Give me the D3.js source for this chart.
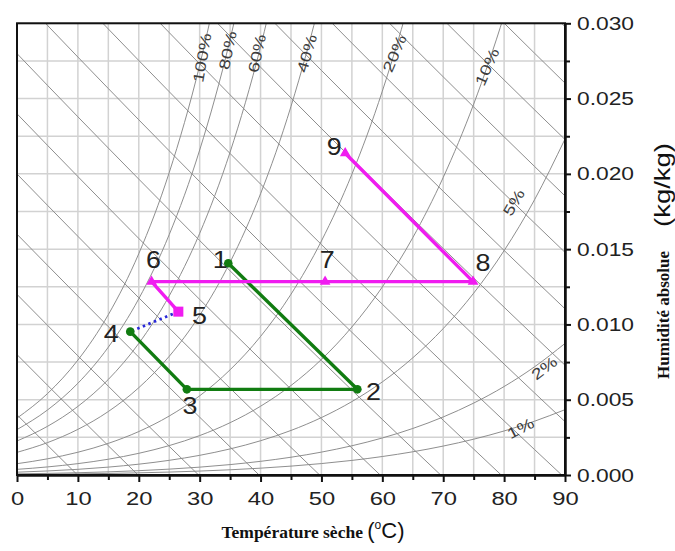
<!DOCTYPE html>
<html>
<head>
<meta charset="utf-8">
<script src="https://cdn.jsdelivr.net/npm/d3@7/dist/d3.min.js"></script>
<style>
  html, body { margin: 0; padding: 0; background: #fff; }
  svg { display: block; }
</style>
</head>
<body>
<svg id="chart" width="675" height="551"></svg>
<script>
// ---------------- DATA ----------------
// Saturation vapour pressure table (kPa) at dry-bulb temperatures (°C)
const satTemps = [0, 5, 10, 15, 20, 25, 30, 35, 40, 45, 50, 55, 60, 65, 70, 75, 80, 85, 90];
const satPress = [0.6112, 0.8726, 1.2282, 1.7058, 2.3393, 3.1699, 4.2470, 5.6290, 7.3849, 9.5940,
                  12.352, 15.763, 19.947, 25.043, 31.202, 38.597, 47.416, 57.868, 70.183];
const atmPressure = 101.325;
// relative-humidity curves drawn (%)
const rhLevels = [100, 80, 60, 40, 20, 10, 5, 2, 1];
const rhLabels = ["100%", "80%", "60%", "40%", "20%", "10%", "5%", "2%", "1%"];
// constant-enthalpy lines (kJ/kg)
const enthalpyLevels = [10, 20, 30, 40, 50, 60, 70, 80, 90, 100, 110, 120, 130, 140, 150, 160, 170];

// process states: dry-bulb temperature (°C) and absolute humidity (kg/kg)
const stateNames = ["1", "2", "3", "4", "5", "6", "7", "8", "9"];
const stateTemp  = [34.7, 55.9, 27.9, 18.6, 26.5, 22.1, 50.6, 74.9, 53.9];
const stateHum   = [0.01406, 0.00569, 0.00569, 0.00952, 0.01085, 0.01284, 0.01284, 0.01284, 0.02137];
// paths through the states
const greenPath = ["1", "2", "3", "4"];
const pinkPath  = ["9", "8", "7", "6", "5"];
const bluePath  = ["5", "4"];

// axis ticks
const xTicks = [0, 10, 20, 30, 40, 50, 60, 70, 80, 90];
const xMinorTicks = [5, 15, 25, 35, 45, 55, 65, 75, 85];
const yTicks = [0, 0.005, 0.010, 0.015, 0.020, 0.025, 0.030];
const yMinorTicks = [0.0025, 0.0075, 0.0125, 0.0175, 0.0225, 0.0275];
const xGrid = [0, 5, 10, 15, 20, 25, 30, 35, 40, 45, 50, 55, 60, 65, 70, 75, 80, 85, 90];
const yGrid = [0, 0.0025, 0.005, 0.0075, 0.01, 0.0125, 0.015, 0.0175, 0.02, 0.0225, 0.025, 0.0275, 0.03];

// ---------------- STYLE / LAYOUT ----------------
const plot = { left: 17, right: 565, top: 23.3, bottom: 475 };
// RH label placement (T, w at label centre) and rotation
const rhLabelPos = {
  "100%": { t: 30.4, w: 0.0277, rot: -80 },
  "80%":  { t: 34.6, w: 0.0282, rot: -78 },
  "60%":  { t: 39.4, w: 0.0280, rot: -78 },
  "40%":  { t: 47.6, w: 0.0280, rot: -74 },
  "20%":  { t: 62.0, w: 0.0280, rot: -67 },
  "10%":  { t: 77.2, w: 0.0271, rot: -66 },
  "5%":   { t: 81.6, w: 0.0181, rot: -60 },
  "2%":   { t: 86.6, w: 0.0071, rot: -37 },
  "1%":   { t: 82.7, w: 0.0031, rot: -28 }
};
const stateLabelOffset = {
  "1": [-8, -4], "2": [16, 2], "3": [3, 16], "4": [-19, 2], "5": [21, 4],
  "6": [2, -22], "7": [2, -22], "8": [10, -19], "9": [-11, -7]
};

const svg = d3.select("#chart");
const x = d3.scaleLinear().domain([0, 90]).range([plot.left, plot.right]);
const y = d3.scaleLinear().domain([0, 0.03]).range([plot.bottom, plot.top]);

svg.append("defs").append("clipPath").attr("id", "clip")
  .append("rect").attr("x", plot.left).attr("y", plot.top)
  .attr("width", plot.right - plot.left).attr("height", plot.bottom - plot.top);

// grid
const grid = svg.append("g").attr("stroke", "#d2d2d2").attr("stroke-width", 1.5);
grid.selectAll("line.v").data(xGrid).join("line")
  .attr("x1", d => x(d)).attr("x2", d => x(d)).attr("y1", plot.top).attr("y2", plot.bottom);
grid.selectAll("line.h").data(yGrid).join("line")
  .attr("y1", d => y(d)).attr("y2", d => y(d)).attr("x1", plot.left).attr("x2", plot.right);

const chartArea = svg.append("g").attr("clip-path", "url(#clip)");

// RH curves
const humRatio = (phi, ps) => 0.622 * phi * ps / (atmPressure - phi * ps);
const line = d3.line().x(d => x(d[0])).y(d => y(d[1])).curve(d3.curveMonotoneX);
rhLevels.forEach(rh => {
  const pts = satTemps.map((t, i) => [t, humRatio(rh / 100, satPress[i])]);
  const cut = pts.findIndex(p => p[1] > 0.034);
  const used = cut > 0 ? pts.slice(0, cut + 1) : pts;
  chartArea.append("path").attr("d", line(used))
    .attr("fill", "none").attr("stroke", "#888").attr("stroke-width", 0.95);
});

// enthalpy lines
const lineLin = d3.line().x(d => x(d[0])).y(d => y(d[1]));
enthalpyLevels.forEach(h => {
  const pts = satTemps.map(t => [t, (h - 1.006 * t) / (2501 + 1.86 * t)]);
  chartArea.append("path").attr("d", lineLin(pts))
    .attr("fill", "none").attr("stroke", "#888").attr("stroke-width", 0.95);
});

// RH labels
rhLabels.forEach(lbl => {
  const p = rhLabelPos[lbl];
  svg.append("text")
    .attr("transform", `translate(${x(p.t)},${y(p.w)}) rotate(${p.rot}) scale(1.3,1)`)
    .attr("text-anchor", "middle").attr("dy", "0.35em")
    .attr("font-family", "Liberation Sans, Arial, sans-serif")
    .attr("font-size", 15).attr("fill", "#3c3c3c")
    .text(lbl);
});

// frame
svg.append("rect").attr("x", plot.left).attr("y", plot.top)
  .attr("width", plot.right - plot.left).attr("height", plot.bottom - plot.top)
  .attr("fill", "none").attr("stroke", "#111").attr("stroke-width", 2);

// bottom axis
const gx = svg.append("g").attr("transform", `translate(0,${plot.bottom})`);
gx.call(d3.axisBottom(x).tickValues(xTicks).tickSize(7).tickPadding(10).tickSizeOuter(0).tickFormat(d3.format("d")));
svg.append("g").attr("transform", `translate(0,${plot.bottom})`)
  .call(d3.axisBottom(x).tickValues(xMinorTicks).tickSize(5).tickSizeOuter(0).tickFormat(""));
// right axis
const gy = svg.append("g").attr("transform", `translate(${plot.right},0)`);
gy.call(d3.axisRight(y).tickValues(yTicks).tickSize(6).tickPadding(4).tickSizeOuter(0).tickFormat(d3.format(".3f")));
svg.append("g").attr("transform", `translate(${plot.right},0)`)
  .call(d3.axisRight(y).tickValues(yMinorTicks).tickSize(5).tickSizeOuter(0).tickFormat(""));

svg.selectAll(".domain").attr("stroke", "#111").attr("stroke-width", 2);
svg.selectAll(".tick line").attr("stroke", "#111").attr("stroke-width", 2);
svg.selectAll(".tick text")
  .attr("font-family", "Liberation Sans, Arial, sans-serif")
  .attr("font-size", 19).attr("fill", "#222")
  .attr("transform", "scale(1.2,1)");
gx.selectAll(".tick text").attr("transform", "scale(1.25,1)");

// axis titles
const xt = svg.append("text").attr("x", 313).attr("y", 538).attr("text-anchor", "middle").attr("fill", "#111");
xt.append("tspan").attr("font-family", "Liberation Serif, Times New Roman, serif")
  .attr("font-weight", "bold").attr("font-size", 17.5).text("Température sèche ");
xt.append("tspan").attr("font-family", "Liberation Sans, Arial, sans-serif").attr("font-size", 22).text("(");
xt.append("tspan").attr("font-family", "Liberation Sans, Arial, sans-serif").attr("font-size", 12).attr("dy", -9).text("o");
xt.append("tspan").attr("font-family", "Liberation Sans, Arial, sans-serif").attr("font-size", 22).attr("dy", 9).text("C)");

svg.append("text").attr("transform", "translate(669,315) rotate(-90)")
  .attr("text-anchor", "middle").attr("fill", "#111")
  .attr("font-family", "Liberation Serif, Times New Roman, serif")
  .attr("font-weight", "bold").attr("font-size", 17).text("Humidité absolue");
svg.append("text").attr("transform", "translate(670,185) rotate(-90) scale(1.25,1)")
  .attr("text-anchor", "middle").attr("fill", "#111")
  .attr("font-family", "Liberation Sans, Arial, sans-serif")
  .attr("font-size", 22).text("(kg/kg)");

// process paths
const stateOf = name => { const i = stateNames.indexOf(name); return [stateTemp[i], stateHum[i]]; };
const straight = d3.line().x(d => x(d[0])).y(d => y(d[1]));
svg.append("path").attr("d", straight(bluePath.map(stateOf)))
  .attr("fill", "none").attr("stroke", "#2a2ad8").attr("stroke-width", 2.8).attr("stroke-dasharray", "2.5,3.5");
svg.append("path").attr("d", straight(greenPath.map(stateOf)))
  .attr("fill", "none").attr("stroke", "#117c11").attr("stroke-width", 3.4).attr("stroke-linejoin", "round");
svg.append("path").attr("d", straight(pinkPath.map(stateOf)))
  .attr("fill", "none").attr("stroke", "#f01cf0").attr("stroke-width", 3.4).attr("stroke-linejoin", "round");

// markers
svg.selectAll("circle.g").data(greenPath).join("circle")
  .attr("cx", d => x(stateOf(d)[0])).attr("cy", d => y(stateOf(d)[1])).attr("r", 4.3).attr("fill", "#117c11");
const tri = d3.symbol().type(d3.symbolTriangle).size(50);
svg.selectAll("path.p").data(["9", "8", "7", "6"]).join("path")
  .attr("d", tri).attr("fill", "#f01cf0")
  .attr("transform", d => `translate(${x(stateOf(d)[0])},${y(stateOf(d)[1])})`);
svg.append("rect").datum("5")
  .attr("x", d => x(stateOf(d)[0]) - 5).attr("y", d => y(stateOf(d)[1]) - 5)
  .attr("width", 10).attr("height", 10).attr("fill", "#f01cf0");

// state labels
svg.selectAll("text.state").data(stateNames).join("text")
  .attr("class", "state")
  .attr("transform", d => `translate(${x(stateOf(d)[0]) + stateLabelOffset[d][0]},${y(stateOf(d)[1]) + stateLabelOffset[d][1]}) scale(1.12,1)`)
  .attr("text-anchor", "middle").attr("dy", "0.35em")
  .attr("font-family", "Liberation Sans, Arial, sans-serif")
  .attr("font-size", 24).attr("fill", "#222")
  .text(d => d);
</script>
</body>
</html>
